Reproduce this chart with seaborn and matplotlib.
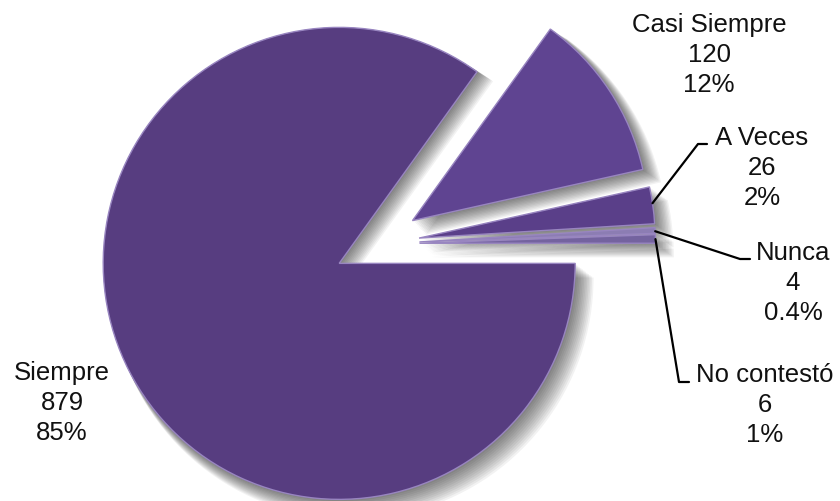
import matplotlib
matplotlib.use("Agg")
import matplotlib.pyplot as plt
import seaborn as sns
import numpy as np

# data
categorias = ["Siempre", "Casi Siempre", "A Veces", "Nunca", "No contestó"]
valores = [879, 120, 26, 4, 6]
porcentajes = ["85%", "12%", "2%", "0.4%", "1%"]

colores = ["#573d80", "#5f4491", "#5a3f89", "#8c7db3", "#74639f"]

sns.set_theme(style="white")
plt.rcParams["font.family"] = ["Liberation Sans", "DejaVu Sans"]

fig = plt.figure(figsize=(8.4, 5.01), dpi=100)
ax = fig.add_axes([0, 0, 1, 1])

# pixel -> data helper (pie centre at px (377, 244), radius 236 px)
R = 236.0
CX, CY = 377.0, 244.0
def px(x, y):
    return ((x - CX) / R, (CY - y) / R)

expl = [0.18] * len(valores)

# soft shadow: a stack of faint grey pies shifted to lower right
for k in range(1, 13):
    off = 0.005 * k
    ax.pie(valores, startangle=0, counterclock=False, explode=expl,
           center=(off * 0.9, -off), radius=1.0 + 0.002 * k,
           colors=["#000000"] * len(valores),
           wedgeprops=dict(alpha=0.05, linewidth=0))

wedges, _ = ax.pie(valores, startangle=0, counterclock=False, explode=expl,
                   colors=colores,
                   wedgeprops=dict(edgecolor="#9885c0", linewidth=1.0))
for w in wedges:
    w.set_zorder(3)

ax.set_xlim(-CX / R, (840 - CX) / R)
ax.set_ylim((CY - 501) / R, CY / R)
ax.set_aspect("equal")
ax.axis("off")

# label positions (layout, in pixels of the reference)
pos_etiquetas = [(62, 403), (709, 55), (762, 168), (793, 283), (765, 405)]
# leader lines: (elbow, stub end) in pixels, None = no line
guias = [None, None, ((698, 144), (707, 144)),
         ((740, 259), (750, 259)), ((679, 382), (689, 382))]
ang_guia = [None, None, 8.5, 2.6, 1.0]

for i, (cat, val, pct) in enumerate(zip(categorias, valores, porcentajes)):
    tx, ty = px(*pos_etiquetas[i])
    ax.text(tx, ty, f"{cat}\n{val}\n{pct}", ha="center", va="center",
            multialignment="center", fontsize=18.5, color="#111111",
            linespacing=1.33, zorder=5)
    if guias[i] is not None:
        w = wedges[i]
        a = np.deg2rad(ang_guia[i])
        sx = w.center[0] + w.r * np.cos(a)
        sy = w.center[1] + w.r * np.sin(a)
        ex, ey = px(*guias[i][0])
        fx, fy = px(*guias[i][1])
        ax.plot([sx, ex, fx], [sy, ey, fy], color="black", lw=1.6, zorder=4)

fig.savefig("out.png", dpi=100, facecolor="white")
